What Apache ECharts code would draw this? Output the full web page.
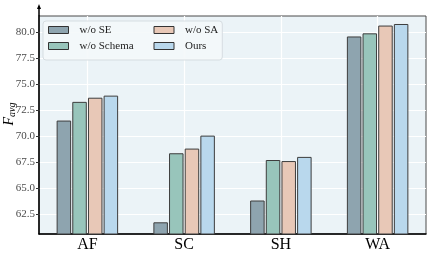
<!DOCTYPE html>
<html>
<head>
<meta charset="utf-8">
<script src="https://cdn.jsdelivr.net/npm/echarts@6/dist/echarts.min.js"></script>
<style>html,body{margin:0;padding:0;background:#fff}#c{width:432px;height:259px}</style>
</head>
<body>
<div id="c"></div>
<script>
const categories = ['AF', 'SC', 'SH', 'WA'];
const seriesNames = ['w/o SE', 'w/o Schema', 'w/o SA', 'Ours'];
const woSE = [71.5, 61.7, 63.8, 79.6];
const woSchema = [73.3, 68.35, 67.7, 79.9];
const woSA = [73.7, 68.8, 67.6, 80.65];
const ours = [73.9, 70.05, 68.0, 80.8];
const yTicks = [62.5, 65.0, 67.5, 70.0, 72.5, 75.0, 77.5, 80.0];

const colors = ['#8ea4af', '#98c5bb', '#e8c8b7', '#b9d8ed'];
const values = [woSE, woSchema, woSA, ours];
const font = '"Liberation Serif", "DejaVu Serif", serif';

const chart = echarts.init(document.getElementById('c'), null, {renderer: 'canvas'});
chart.setOption({
  animation: false,
  textStyle: {fontFamily: font},
  grid: {left: 39, right: 6, top: 16, bottom: 25, show: true, backgroundColor: '#ebf3f7', borderColor: '#4a4a4a', borderWidth: 1, containLabel: false, outerBoundsMode: 'none'},
  legend: {
    orient: 'vertical',
    left: 43, top: 21,
    height: 32,
    icon: 'rect',
    itemWidth: 20, itemHeight: 7, itemGap: 4,
    padding: [3, 4, 8, 5],
    backgroundColor: 'rgba(244,248,250,0.9)',
    borderColor: '#d6dde1', borderWidth: 1, borderRadius: 3,
    textStyle: {fontFamily: font, fontSize: 11, lineHeight: 12, color: '#222', padding: [0, 0, 0, 6]},
    itemStyle: {borderColor: '#333', borderWidth: 1},
    data: [
      {name: seriesNames[0], textStyle: {width: 70}},
      {name: seriesNames[1], textStyle: {width: 70}},
      {name: seriesNames[2]},
      {name: seriesNames[3]}
    ]
  },
  xAxis: {
    type: 'category',
    data: categories,
    axisLine: {lineStyle: {color: '#000', width: 1.5}},
    axisTick: {show: false},
    axisLabel: {fontFamily: font, fontSize: 16, color: '#000', margin: 3},
    splitLine: {show: true, alignWithLabel: true, lineStyle: {color: '#ffffff', width: 1.2}}
  },
  yAxis: {
    type: 'value',
    min: 60.574, max: 81.57,
    name: '{f|F}{s|avg}',
    nameLocation: 'middle',
    nameGap: 22,
    nameMoveOverlap: false,
    nameRotate: 90,
    nameTextStyle: {
      padding: [0, 0, 0, 22],
      rich: {
        f: {fontFamily: font, fontStyle: 'italic', fontSize: 14, color: '#000'},
        s: {fontFamily: font, fontStyle: 'italic', fontSize: 10, color: '#000', verticalAlign: 'bottom', padding: [6, 0, 0, 0]}
      }
    },
    axisLine: {show: true, lineStyle: {color: '#000', width: 1.5}},
    axisTick: {show: true, length: 3, customValues: yTicks, lineStyle: {color: '#333'}},
    axisLabel: {customValues: yTicks, fontFamily: font, fontSize: 11, color: '#4a4a4a', margin: 4, formatter: v => v.toFixed(1)},
    splitLine: {show: true, lineStyle: {color: '#ffffff', width: 1.2}}
  },
  graphic: [
    {type: 'line', shape: {x1: 39, y1: 16, x2: 39, y2: 7}, style: {stroke: '#000', lineWidth: 1.5}, z: 100},
    {type: 'polygon', shape: {points: [[37, 9], [41, 9], [39, 4]]}, style: {fill: '#000'}, z: 100}
  ],
  series: seriesNames.map((n, i) => ({
    name: n,
    type: 'bar',
    data: values[i],
    barWidth: 14.5,
    barGap: '8%',
    itemStyle: {color: colors[i], borderColor: '#3d3d3d', borderWidth: 1}
  }))
});
</script>
</body>
</html>
